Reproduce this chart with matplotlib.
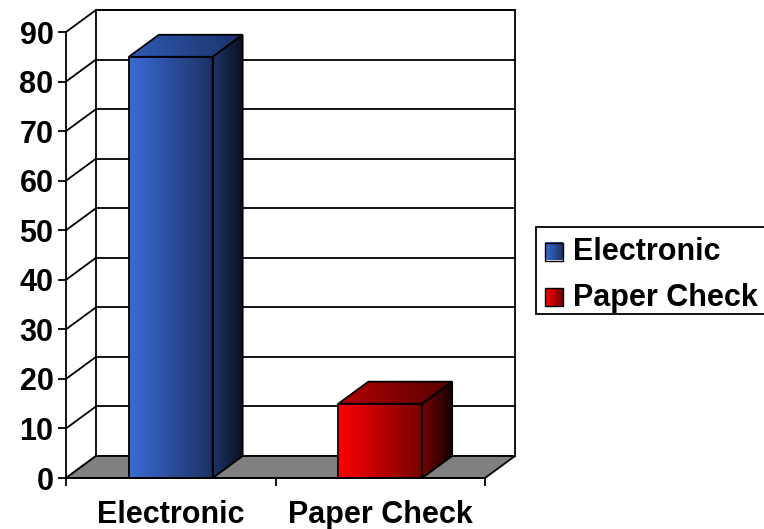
import numpy as np
import matplotlib
matplotlib.use("Agg")
import matplotlib.pyplot as plt
from matplotlib.patches import Polygon, Rectangle
from matplotlib.colors import to_rgb

# ---- data ----
categories = ["Electronic", "Paper Check"]
values = [85, 15]
y_ticks = [0, 10, 20, 30, 40, 50, 60, 70, 80, 90]

# gradient colour pairs (left -> right) for each face of each column
front_colors = [("#3a6cd6", "#1b3163"), ("#ff0000", "#760000")]
side_colors = [("#1d3468", "#07101f"), ("#760000", "#140000")]
top_colors = [("#2f5cb4", "#1a3169"), ("#b40000", "#560000")]

plt.rcParams['font.family'] = ['Liberation Sans', 'DejaVu Sans']
plt.rcParams['font.weight'] = 'bold'

W, H = 764, 529
fig = plt.figure(figsize=(W / 100, H / 100), dpi=100)
fig.patch.set_facecolor("white")

# axes spans the front plane of the 3-D box
ax = fig.add_axes([66 / W, 1 - 478 / H, (485 - 66) / W, (478 - 32) / H])
n = len(categories)
ymax = y_ticks[-1]

# depth of the box, expressed in data units
DX = 30 / ((485 - 66) / n)
DY = 22 / ((478 - 32) / ymax)
LW = 1.3
FS = 22


def gradient(axis, c0, c1, extent, clip=None, z=3):
    a, b = np.array(to_rgb(c0)), np.array(to_rgb(c1))
    t = np.linspace(0, 1, 256)[None, :, None]
    img = a + (b - a) * t
    im = axis.imshow(img, extent=extent, aspect="auto", interpolation="bilinear",
                     zorder=z, origin="lower")
    if clip is not None:
        im.set_clip_path(clip)
    return im


# back wall
ax.add_patch(Polygon([(DX, DY), (n + DX, DY), (n + DX, ymax + DY), (DX, ymax + DY)],
                     closed=True, facecolor="white", edgecolor="black", lw=LW,
                     clip_on=False, zorder=0.5))
for v in y_ticks:
    ax.plot([DX, n + DX], [v + DY, v + DY], color="black", lw=LW, clip_on=False, zorder=1)
    ax.plot([0, DX], [v, v + DY], color="black", lw=LW, clip_on=False, zorder=1)

# floor
ax.add_patch(Polygon([(0, 0), (n, 0), (n + DX, DY), (DX, DY)], closed=True,
                     facecolor="#808080", edgecolor="black", lw=LW,
                     clip_on=False, zorder=2))

# columns
hw = 0.2
for i, v in enumerate(values):
    c = i + 0.5
    x0, x1 = c - hw, c + hw
    front = [(x0, 0), (x1, 0), (x1, v), (x0, v)]
    side = [(x1, 0), (x1 + DX, DY), (x1 + DX, v + DY), (x1, v)]
    top = [(x0, v), (x1, v), (x1 + DX, v + DY), (x0 + DX, v + DY)]

    gradient(ax, *front_colors[i], [x0, x1, 0, v], z=3)
    pside = Polygon(side, closed=True, transform=ax.transData)
    gradient(ax, *side_colors[i], [x1, x1 + DX, 0, v + DY], clip=pside, z=3)
    ptop = Polygon(top, closed=True, transform=ax.transData)
    gradient(ax, *top_colors[i], [x0, x1 + DX, v, v + DY], clip=ptop, z=3)
    for poly in (front, side, top):
        ax.add_patch(Polygon(poly, closed=True, facecolor="none", edgecolor="black",
                             lw=LW, zorder=4, clip_on=False))

ax.set_xlim(0, n)
ax.set_ylim(0, ymax)

# axes, ticks and labels
for s in ("top", "right"):
    ax.spines[s].set_visible(False)
for s in ("left", "bottom"):
    ax.spines[s].set_linewidth(LW)
    ax.spines[s].set_zorder(5)

ax.set_yticks(y_ticks)
ax.set_yticklabels([str(t) for t in y_ticks], fontsize=FS, fontweight="bold")
ax.tick_params(axis="y", length=6, width=LW, pad=3)

ax.set_xticks(np.arange(n + 1))
ax.set_xticklabels([])
ax.set_xticks(np.arange(n) + 0.5, minor=True)
ax.set_xticklabels(categories, minor=True, fontsize=FS, fontweight="bold")
ax.tick_params(axis="x", which="major", length=6, width=LW)
ax.tick_params(axis="x", which="minor", length=0, pad=16)

# legend box (right side, runs off the canvas edge)
lx0, ly0, lx1, ly1 = 536, 227, 770, 314
lax = fig.add_axes([lx0 / W, 1 - ly1 / H, (lx1 - lx0) / W, (ly1 - ly0) / H])
lax.set_xlim(0, lx1 - lx0)
lax.set_ylim(ly1 - ly0, 0)
lax.axis("off")
lax.add_patch(Rectangle((0, 0), lx1 - lx0, ly1 - ly0, facecolor="white",
                        edgecolor="black", lw=LW, clip_on=False, zorder=0))
rows = [24.5, 70]
for i, name in enumerate(categories):
    yc = rows[i]
    gradient(lax, front_colors[i][0], front_colors[i][1], [9, 27, yc + 9, yc - 9], z=2)
    lax.add_patch(Rectangle((9, yc - 9), 18, 18, facecolor="none", edgecolor="black",
                            lw=1.0, zorder=3))
    lax.text(37, yc + 9, name, fontsize=FS, fontweight="bold", va="baseline", ha="left")
lax.set_xlim(0, lx1 - lx0)
lax.set_ylim(ly1 - ly0, 0)

fig.savefig("out.png", dpi=100, facecolor="white")
